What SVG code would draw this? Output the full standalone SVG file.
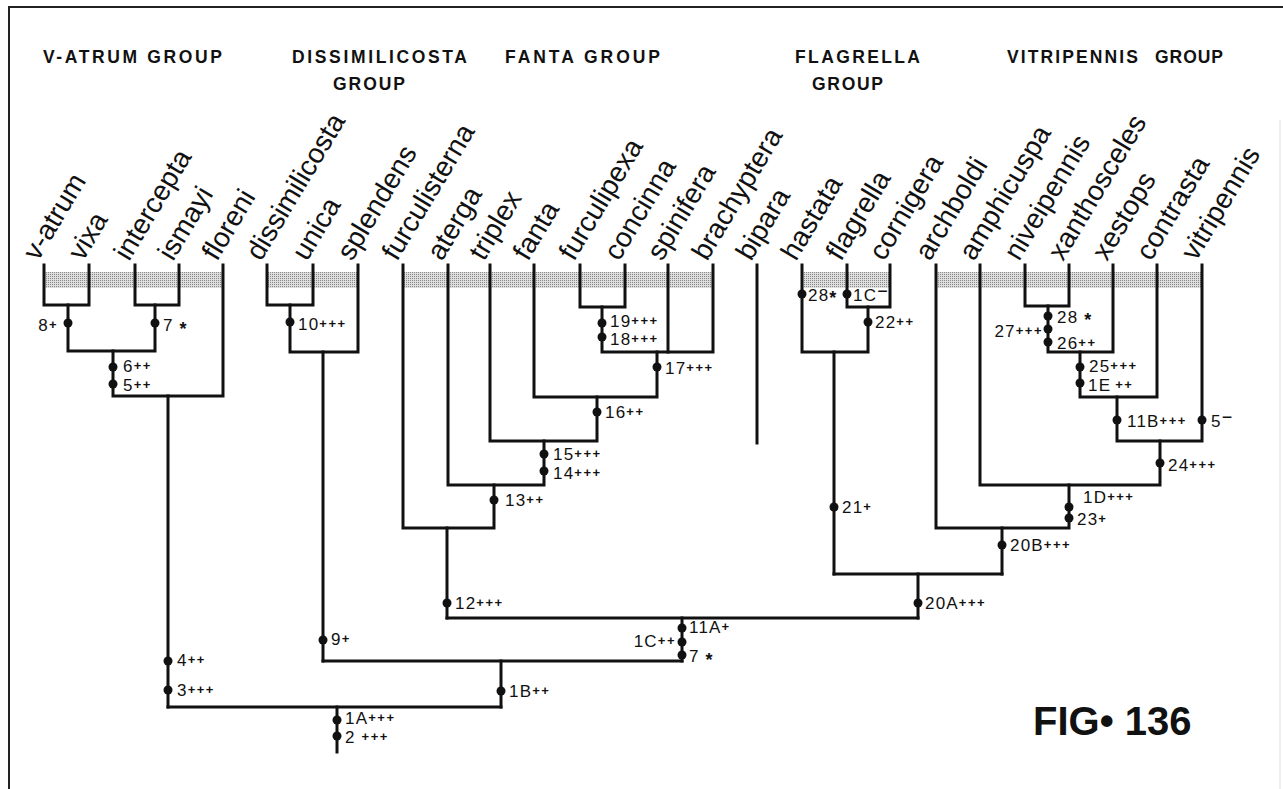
<svg xmlns="http://www.w3.org/2000/svg" width="1283" height="789" viewBox="0 0 1283 789">
<defs>
<pattern id="stip" width="2" height="2" patternUnits="userSpaceOnUse">
<rect width="2" height="2" fill="#dedede"/>
<rect width="1" height="1" fill="#8a8a8a"/>
</pattern>
<style>
.grp{font-family:"Liberation Sans",Arial,sans-serif;font-weight:bold;font-size:17.5px;fill:#111}
.tx{font-family:"Liberation Sans",Arial,sans-serif;font-size:28px;fill:#111}
.lb{font-family:"Liberation Sans",Arial,sans-serif;font-size:17px;fill:#111;letter-spacing:1.2px}
.p{font-size:13px;font-weight:bold;letter-spacing:1.5px}
.st{font-size:18px;font-weight:bold}
.mn{font-size:18px}
.ln{fill:none;stroke:#111;stroke-width:3;stroke-linejoin:miter;stroke-linecap:square}
.dot{fill:#111}
.fig{font-family:"Liberation Sans",Arial,sans-serif;font-weight:bold;font-size:40px;fill:#111}
</style>
</defs>
<rect width="1283" height="789" fill="#fff"/>
<g id="frame" fill="none">
<path d="M9,789 V7 H1283" stroke="#222" stroke-width="2"/>
<path d="M1280,120 V789" stroke="#ddd" stroke-width="1"/>
</g>
<g id="bands" fill="url(#stip)">
<rect x="44" y="272" width="179" height="16"/>
<rect x="267" y="272" width="91" height="16"/>
<rect x="403" y="272" width="310" height="16"/>
<rect x="802" y="272" width="88" height="16"/>
<rect x="936" y="272" width="266" height="16"/>
</g>
<g id="group-labels" class="grp">
<text id="g-vatrum" x="43" y="63" textLength="179" lengthAdjust="spacing">V-ATRUM GROUP</text>
<text id="g-dissim" x="292" y="63" textLength="175" lengthAdjust="spacing">DISSIMILICOSTA</text>
<text x="333" y="90" textLength="72" lengthAdjust="spacing">GROUP</text>
<text id="g-fanta" x="505" y="63" textLength="155" lengthAdjust="spacing">FANTA GROUP</text>
<text id="g-flag" x="795" y="63" textLength="125" lengthAdjust="spacing">FLAGRELLA</text>
<text x="812" y="90" textLength="71" lengthAdjust="spacing">GROUP</text>
<text id="g-vitri" x="1007" y="63" textLength="131" lengthAdjust="spacing">VITRIPENNIS</text>
<text x="1155" y="63" textLength="68" lengthAdjust="spacing">GROUP</text>
</g>
<g id="connectors" class="ln">
<path d="M44,265 V305 H89 V265"/>
<path d="M135,265 V305 H179 V265"/>
<path d="M68,305 V351 H155 V305"/>
<path d="M113,351 V396 H223 V265"/>
<path d="M168,396 V707"/>
<path d="M267,265 V305 H313 V265"/>
<path d="M290,305 V352 H358 V265"/>
<path d="M323,352 V661"/>
<path d="M580,265 V307 H625 V265"/>
<path d="M602,307 V352 H713 V265"/>
<path d="M668,265 V352"/>
<path d="M657,352 V397 H534 V265"/>
<path d="M597,397 V441 H490 V265"/>
<path d="M544,441 V485 H448 V265"/>
<path d="M494,485 V528 H403 V265"/>
<path d="M447,528 V618"/>
<path d="M757,265 V443"/>
<path d="M847,265 V307 H890 V265"/>
<path d="M868,307 V352 H802 V265"/>
<path d="M834,352 V574"/>
<path d="M1025,265 V306 H1069 V265"/>
<path d="M1048,306 V352 H1113 V265"/>
<path d="M1080,352 V397 H1157 V265"/>
<path d="M1117,397 V441 H1202 V265"/>
<path d="M1160,441 V485 H980 V265"/>
<path d="M1069,485 V528 H936 V265"/>
<path d="M1002,528 V574"/>
<path d="M834,574 H1002"/>
<path d="M918,574 V618"/>
<path d="M447,618 H918"/>
<path d="M682,618 V661"/>
<path d="M323,661 H682"/>
<path d="M501,661 V707"/>
<path d="M168,707 H501"/>
<path d="M337,707 V752"/>
</g>
<g id="taxa" class="tx">
<g id="t-v-atrum"><text transform="translate(38,262) rotate(-59)">v-atrum</text></g>
<g id="t-vixa"><text transform="translate(83,262) rotate(-59)">vixa</text></g>
<g id="t-intercepta"><text transform="translate(129,262) rotate(-59)">intercepta</text></g>
<g id="t-ismayi"><text transform="translate(173,262) rotate(-59)">ismayi</text></g>
<g id="t-floreni"><text transform="translate(217,262) rotate(-59)">floreni</text></g>
<g id="t-dissimilicosta"><text transform="translate(261,262) rotate(-59)">dissimilicosta</text></g>
<g id="t-unica"><text transform="translate(307,262) rotate(-59)">unica</text></g>
<g id="t-splendens"><text transform="translate(352,262) rotate(-59)">splendens</text></g>
<g id="t-furculisterna"><text transform="translate(397,262) rotate(-59)">furculisterna</text></g>
<g id="t-aterga"><text transform="translate(442,262) rotate(-59)">aterga</text></g>
<g id="t-triplex"><text transform="translate(484,262) rotate(-59)">triplex</text></g>
<g id="t-fanta"><text transform="translate(528,262) rotate(-59)">fanta</text></g>
<g id="t-furculipexa"><text transform="translate(574,262) rotate(-59)">furculipexa</text></g>
<g id="t-concinna"><text transform="translate(619,262) rotate(-59)">concinna</text></g>
<g id="t-spinifera"><text transform="translate(662,262) rotate(-59)">spinifera</text></g>
<g id="t-brachyptera"><text transform="translate(707,262) rotate(-59)">brachyptera</text></g>
<g id="t-bipara"><text transform="translate(751,262) rotate(-59)">bipara</text></g>
<g id="t-hastata"><text transform="translate(796,262) rotate(-59)">hastata</text></g>
<g id="t-flagrella"><text transform="translate(841,262) rotate(-59)">flagrella</text></g>
<g id="t-cornigera"><text transform="translate(884,262) rotate(-59)">cornigera</text></g>
<g id="t-archboldi"><text transform="translate(930,262) rotate(-59)">archboldi</text></g>
<g id="t-amphicuspa"><text transform="translate(974,262) rotate(-59)">amphicuspa</text></g>
<g id="t-niveipennis"><text transform="translate(1019,262) rotate(-59)">niveipennis</text></g>
<g id="t-xanthosceles"><text transform="translate(1063,262) rotate(-59)">xanthosceles</text></g>
<g id="t-xestops"><text transform="translate(1107,262) rotate(-59)">xestops</text></g>
<g id="t-contrasta"><text transform="translate(1151,262) rotate(-59)">contrasta</text></g>
<g id="t-vitripennis"><text transform="translate(1196,262) rotate(-59)">vitripennis</text></g>
</g>
<g id="character-dots" class="dot">
<circle cx="68" cy="323" r="4.5"/><circle cx="155" cy="323" r="4.5"/>
<circle cx="113" cy="367" r="4.5"/><circle cx="113" cy="384" r="4.5"/>
<circle cx="290" cy="322" r="4.5"/>
<circle cx="602" cy="323" r="4.5"/><circle cx="602" cy="337" r="4.5"/>
<circle cx="657" cy="367" r="4.5"/><circle cx="597" cy="412" r="4.5"/>
<circle cx="544" cy="454" r="4.5"/><circle cx="544" cy="471" r="4.5"/>
<circle cx="494" cy="500" r="4.5"/>
<circle cx="802" cy="294" r="4.5"/><circle cx="847" cy="294" r="4.5"/>
<circle cx="868" cy="322" r="4.5"/><circle cx="834" cy="507" r="4.5"/>
<circle cx="1048" cy="316" r="4.5"/><circle cx="1048" cy="329" r="4.5"/><circle cx="1048" cy="342" r="4.5"/>
<circle cx="1080" cy="367" r="4.5"/><circle cx="1080" cy="383" r="4.5"/>
<circle cx="1117" cy="420" r="4.5"/><circle cx="1202" cy="420" r="4.5"/>
<circle cx="1160" cy="463" r="4.5"/>
<circle cx="1069" cy="507" r="4.5"/><circle cx="1069" cy="518" r="4.5"/>
<circle cx="1002" cy="545" r="4.5"/><circle cx="918" cy="603" r="4.5"/>
<circle cx="447" cy="603" r="4.5"/>
<circle cx="682" cy="628" r="4.5"/><circle cx="682" cy="642" r="4.5"/><circle cx="682" cy="655" r="4.5"/>
<circle cx="323" cy="640" r="4.5"/>
<circle cx="168" cy="661" r="4.5"/><circle cx="168" cy="690" r="4.5"/>
<circle cx="501" cy="691" r="4.5"/>
<circle cx="337" cy="720" r="4.5"/><circle cx="337" cy="736" r="4.5"/>
</g>
<g id="character-labels" class="lb">
<text x="58" y="331" text-anchor="end">8<tspan class="p" dy="-2">+</tspan></text>
<text x="163" y="331">7 <tspan class="st" dy="4">*</tspan></text>
<text x="123" y="372">6<tspan class="p" dy="-2">++</tspan></text>
<text x="123" y="391">5<tspan class="p" dy="-2">++</tspan></text>
<text x="298" y="330">10<tspan class="p" dy="-2">+++</tspan></text>
<text x="610" y="327">19<tspan class="p" dy="-2">+++</tspan></text>
<text x="610" y="345">18<tspan class="p" dy="-2">+++</tspan></text>
<text x="665" y="374">17<tspan class="p" dy="-2">+++</tspan></text>
<text x="605" y="418">16<tspan class="p" dy="-2">++</tspan></text>
<text x="553" y="460">15<tspan class="p" dy="-2">+++</tspan></text>
<text x="553" y="479">14<tspan class="p" dy="-2">+++</tspan></text>
<text x="505" y="506">13<tspan class="p" dy="-2">++</tspan></text>
<text x="808" y="301">28<tspan class="st" dy="3">*</tspan></text>
<text x="853" y="301">1C<tspan class="mn" dy="-4">−</tspan></text>
<text x="875" y="328">22<tspan class="p" dy="-2">++</tspan></text>
<text x="842" y="513">21<tspan class="p" dy="-2">+</tspan></text>
<text x="1057" y="323">28 <tspan class="st" dy="3">*</tspan></text>
<text x="1043" y="337" text-anchor="end">27<tspan class="p" dy="-2">+++</tspan></text>
<text x="1057" y="349">26<tspan class="p" dy="-2">++</tspan></text>
<text x="1089" y="372">25<tspan class="p" dy="-2">+++</tspan></text>
<text x="1088" y="391">1E<tspan class="p" dx="4" dy="-2">++</tspan></text>
<text x="1127" y="427">11B<tspan class="p" dy="-2">+++</tspan></text>
<text x="1211" y="427">5<tspan class="mn" dy="-4">−</tspan></text>
<text x="1168" y="471">24<tspan class="p" dy="-2">+++</tspan></text>
<text x="1083" y="503">1D<tspan class="p" dy="-2">+++</tspan></text>
<text x="1077" y="525">23<tspan class="p" dy="-2">+</tspan></text>
<text x="1010" y="551">20B<tspan class="p" dy="-2">+++</tspan></text>
<text x="925" y="609">20A<tspan class="p" dy="-2">+++</tspan></text>
<text x="455" y="609">12<tspan class="p" dy="-2">+++</tspan></text>
<text x="689" y="633">11A<tspan class="p" dy="-2">+</tspan></text>
<text x="676" y="647" text-anchor="end">1C<tspan class="p" dy="-2">++</tspan></text>
<text x="689" y="662">7 <tspan class="st" dy="4">*</tspan></text>
<text x="331" y="645">9<tspan class="p" dy="-2">+</tspan></text>
<text x="177" y="666">4<tspan class="p" dy="-2">++</tspan></text>
<text x="177" y="696">3<tspan class="p" dy="-2">+++</tspan></text>
<text x="509" y="697">1B<tspan class="p" dy="-2">++</tspan></text>
<text x="345" y="724">1A<tspan class="p" dy="-2">+++</tspan></text>
<text x="345" y="743">2 <tspan class="p" dy="-2">+++</tspan></text>
</g>
<g id="figure-title">
<text class="fig" x="1033" y="735">FIG• 136</text>
</g>
</svg>
